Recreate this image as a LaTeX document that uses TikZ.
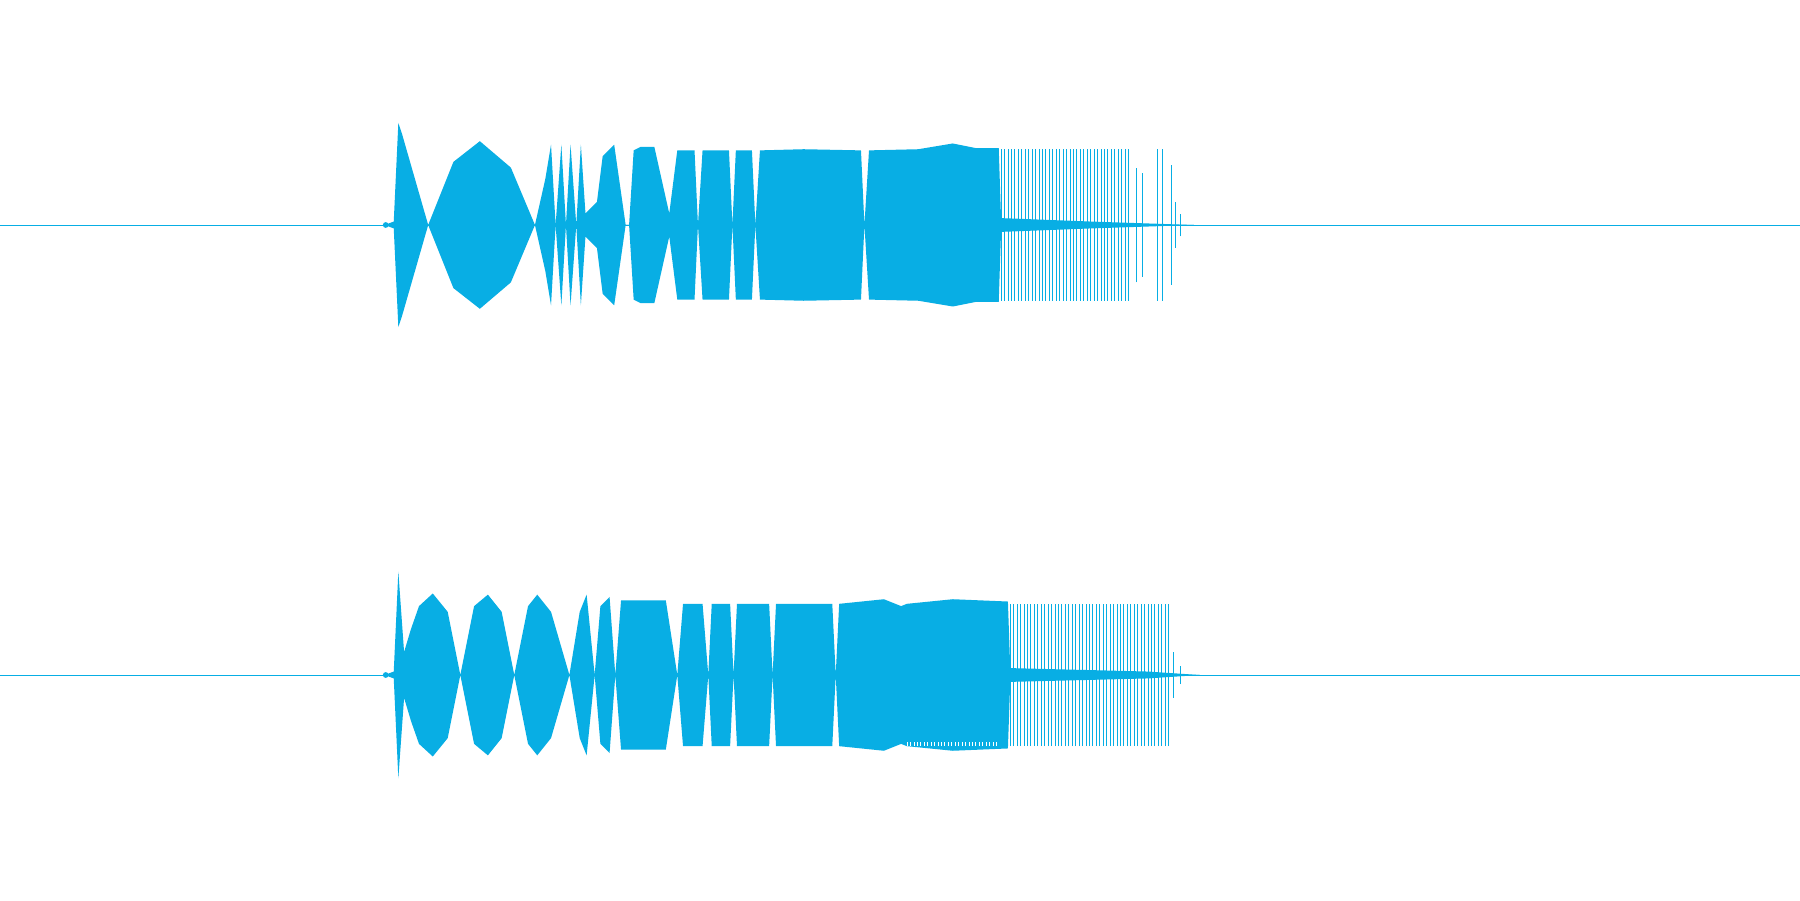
\documentclass[tikz,border=0pt]{standalone}
\definecolor{wave}{HTML}{08AEE4}
\begin{document}
\begin{tikzpicture}[x=1pt,y=1pt,wv/.style={fill=wave,draw=none}]
\useasboundingbox[fill=white] (0,0) rectangle (1568,784);
\def\topenv{(335,0)(343,3)(347,89)(350,80)(373,0)(395,55)(418,73)(445,50)(466,0)(475,40)(480,70)(484,0)(489,70)(493,0)(497,70)(502,0)(506,70)(510,10)(520,20)(525,60)(535,70)(545,0)(548,0)(552,65)(558,68)(570,68)(583,10)(590,65)(605,65)(608,0)(612,65)(635,65)(638,0)(641,65)(655,65)(658,0)(662,65)(700,66)(750,65)(753,0)(757,65)(800,66)(830,71)(850,67)(870,67)(872,6)(950,3)(1040,0)}
\def\botenv{(335,0)(343,3)(347,90)(352,20)(358,40)(365,60)(377,71)(390,55)(401,0)(413,60)(425,70)(437,55)(448,0)(460,60)(468,70)(480,55)(496,0)(505,55)(511,70)(518,0)(523,60)(531,68)(536,0)(541,65)(580,65)(590,0)(595,62)(612,62)(617,0)(620,62)(636,62)(639,0)(642,62)(670,62)(673,0)(676,62)(725,62)(728,0)(731,62)(770,66)(785,60)(790,62)(830,66)(878,64)(880,6)(1000,3)(1045,0)}
\begin{scope}[shift={(0,588)}]
\draw[wave,line width=0.8] (0,0) -- (1568,0);
\fill[wv] plot coordinates {\topenv} -- cycle;
\fill[wv,yscale=-1] plot coordinates {\topenv} -- cycle;
\foreach \x in {872,875,...,985}{\draw[wave,line width=0.7] (\x,-66) -- (\x,66);}
\foreach \x/\h in {990/50,995/45,1008/66,1013/66,1020/52,1024/20,1028/10}{\draw[wave,line width=0.7] (\x,-\h) -- (\x,\h);}
\fill[wave] (336,0) circle (2.5);
\end{scope}
\begin{scope}[shift={(0,196)}]
\draw[wave,line width=0.8] (0,0) -- (1568,0);
\fill[wv] plot coordinates {\botenv} -- cycle;
\fill[wv,yscale=-1] plot coordinates {\botenv} -- cycle;
\foreach \x in {880,883,...,1018}{\draw[wave,line width=0.7] (\x,-62) -- (\x,62);}
\foreach \x/\h in {1022/20,1028/8}{\draw[wave,line width=0.7] (\x,-\h) -- (\x,\h);}
\foreach \x in {790,793,...,870}{\draw[white,line width=0.5] (\x,-62) -- (\x,-58);}
\fill[wave] (336,0) circle (2.5);
\end{scope}
\end{tikzpicture}
\end{document}
